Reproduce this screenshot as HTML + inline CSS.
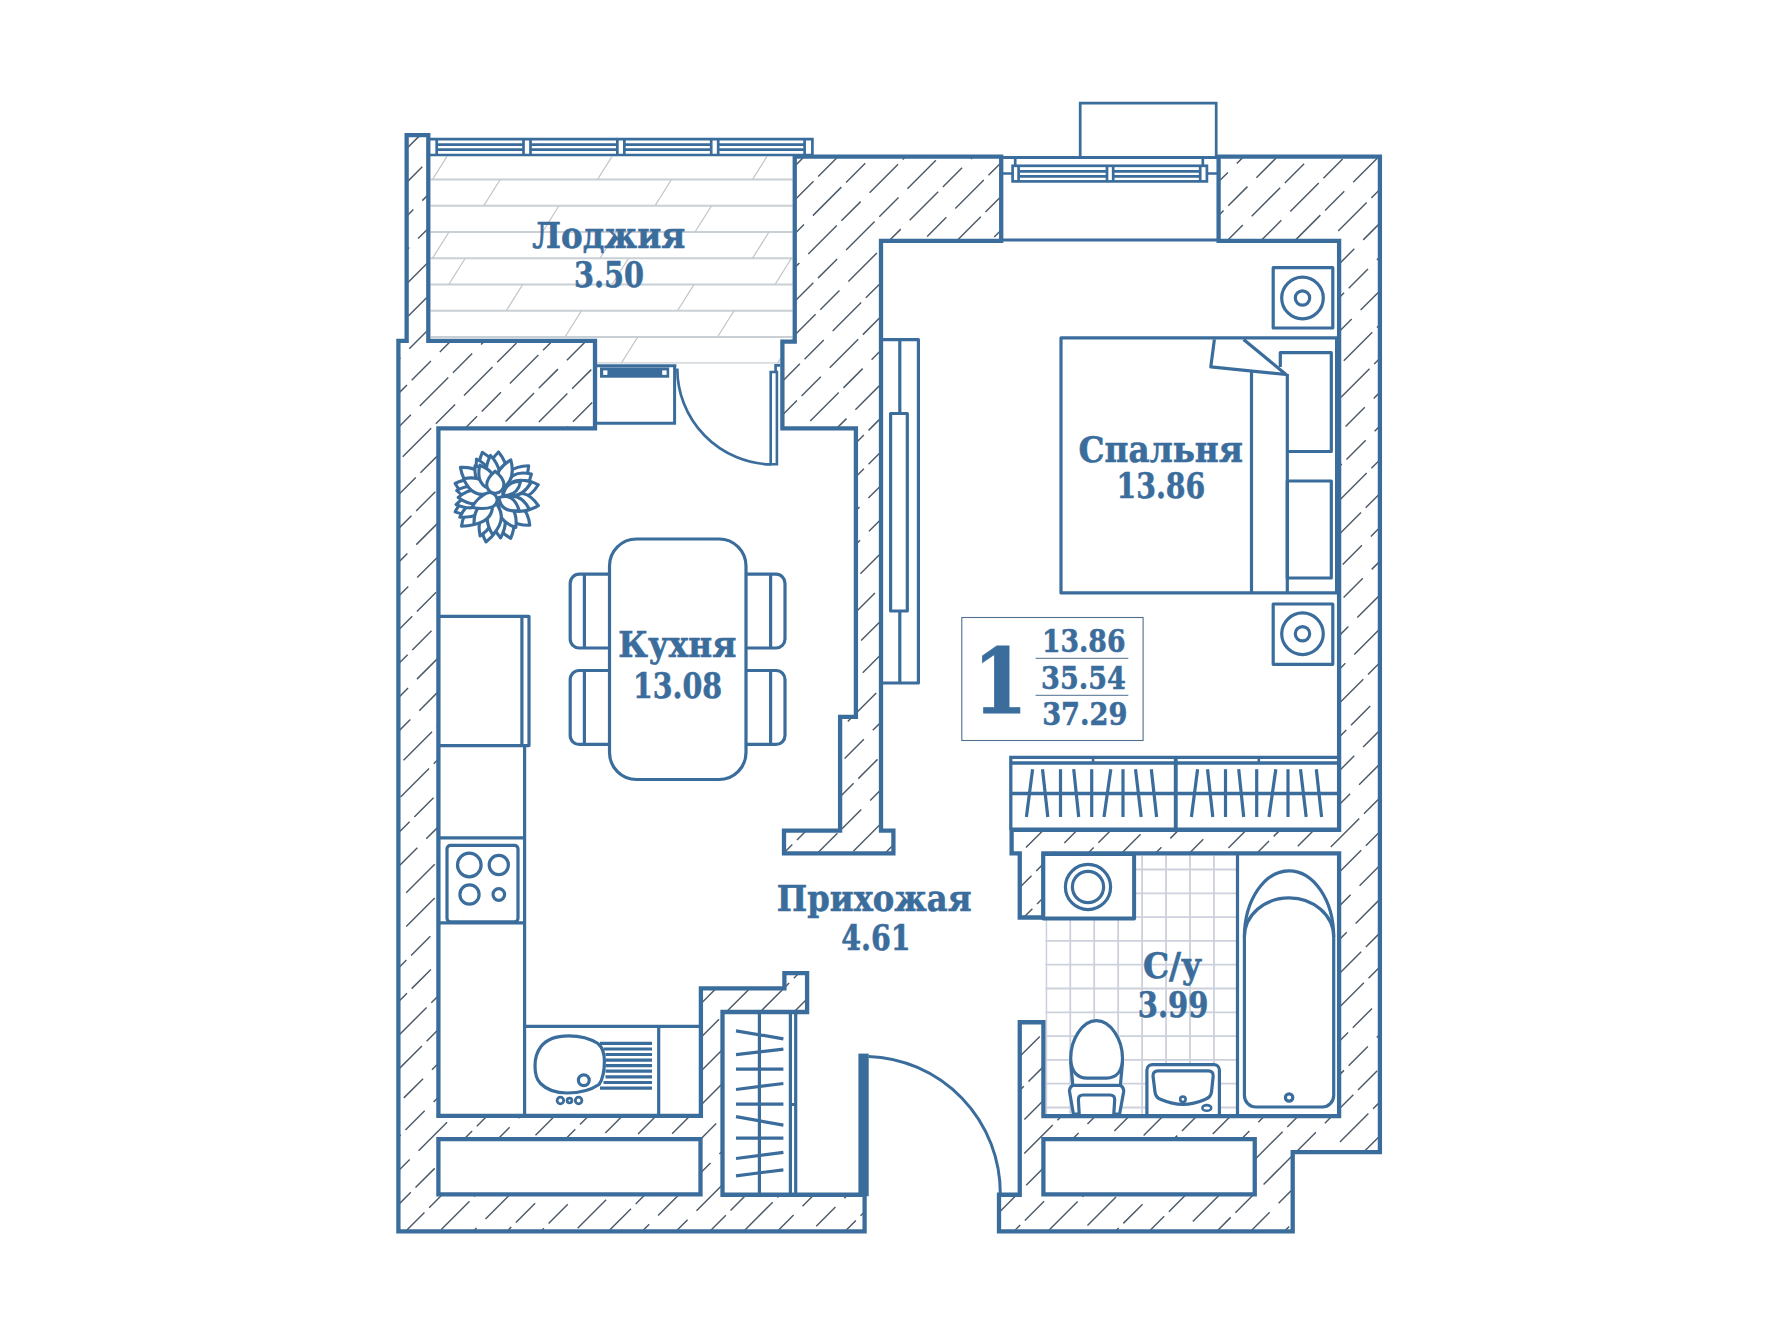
<!DOCTYPE html>
<html lang="ru"><head><meta charset="utf-8"><title>Планировка 1-комнатной квартиры 37.29</title>
<style>html,body{margin:0;padding:0;background:#fff}body{width:1778px;height:1333px;overflow:hidden}svg{display:block}text{font-family:"DejaVu Serif","Liberation Serif",serif;font-weight:bold;fill:#3b6d9c}.w{fill:none;stroke:#3b6d9c;stroke-width:4.3;stroke-linejoin:miter}.f{fill:none;stroke:#3b6d9c;stroke-width:3.2;stroke-linejoin:round;stroke-linecap:butt}.fw{fill:#fff;stroke:#3b6d9c;stroke-width:3.2;stroke-linejoin:round}.t{fill:none;stroke:#3b6d9c;stroke-width:2.7}.tw{fill:#fff;stroke:#3b6d9c;stroke-width:2.6}.h{stroke:#4d5b69;stroke-width:1.45;fill:none;stroke-dasharray:40.3 6.6 27.2 12.6}.fl{stroke:#c9d0d5;stroke-width:1.8;fill:none}.tl{stroke:#cdd1db;stroke-width:1.8;fill:none}</style></head><body>
<svg width="1778" height="1333" viewBox="0 0 1778 1333">
<rect width="1778" height="1333" fill="#fff"/>
<defs>
<clipPath id="cw"><path clip-rule="evenodd" d="M864.6,1194.75 L864.6,1231.4 L398.4,1231.4 L398.4,340.9 L406.65,340.9 L406.65,135.2 L428.3,135.2 L428.3,340.9 L595,340.9 L595,428.3 L438.4,428.3 L438.4,1115.9 L700.9,1115.9 L700.9,988.4 L784.4,988.4 L784.4,973.1 L807.1,973.1 L807.1,1012 L722.5,1012 L722.5,1194.75Z M999,1194.75 L999,1231.4 L1292.7,1231.4 L1292.7,1152.1 L1379.9,1152.1 L1379.9,156.6 L1218.6,156.6 L1218.6,240.9 L1339.1,240.9 L1339.1,829.75 L1011.6,829.75 L1011.6,853.4 L1019.75,853.4 L1019.75,917.5 L1043.4,917.5 L1043.4,853.4 L1339.1,853.4 L1339.1,1116.2 L1043.4,1116.2 L1043.4,1022.25 L1019.75,1022.25 L1019.75,1194.75Z M794.75,156.6 L1001.2,156.6 L1001.2,240.9 L881,240.9 L881,830.6 L893.4,830.6 L893.4,853.4 L784,853.4 L784,830.6 L840.1,830.6 L840.1,716.9 L855.9,716.9 L855.9,428.3 L782.4,428.3 L782.4,341.6 L794.75,341.6Z M438.4,1139.1 L700.5,1139.1 L700.5,1194.4 L438.4,1194.4Z M1043.4,1139.1 L1254.75,1139.1 L1254.75,1194.4 L1043.4,1194.4Z"/></clipPath>
<clipPath id="cl"><path d="M430.4,156.5H792.6V341.6H780.4V363.4H597V341H430.4Z"/></clipPath>
<clipPath id="cb"><path d="M1045.5,855.5H1236V1113.8H1045.5Z"/></clipPath>
</defs>
<g class="fl" clip-path="url(#cl)"><path d="M425,179.5H800"/><path d="M425,205.75H800"/><path d="M425,232H800"/><path d="M425,258.25H800"/><path d="M425,284.5H800"/><path d="M425,310.75H800"/><path d="M425,337H800"/><path d="M425,363.25H800"/><path d="M432.5,179.5l16.5,-26.25" style="stroke:#c2c6ca;stroke-width:1.3"/><path d="M597.5,179.5l16.5,-26.25" style="stroke:#c2c6ca;stroke-width:1.3"/><path d="M752.5,179.5l16.5,-26.25" style="stroke:#c2c6ca;stroke-width:1.3"/><path d="M483.75,205.75l16.5,-26.25" style="stroke:#c2c6ca;stroke-width:1.3"/><path d="M655,205.75l16.5,-26.25" style="stroke:#c2c6ca;stroke-width:1.3"/><path d="M542.5,232l16.5,-26.25" style="stroke:#c2c6ca;stroke-width:1.3"/><path d="M695,232l16.5,-26.25" style="stroke:#c2c6ca;stroke-width:1.3"/><path d="M432.5,258.25l16.5,-26.25" style="stroke:#c2c6ca;stroke-width:1.3"/><path d="M600,258.25l16.5,-26.25" style="stroke:#c2c6ca;stroke-width:1.3"/><path d="M752.5,258.25l16.5,-26.25" style="stroke:#c2c6ca;stroke-width:1.3"/><path d="M448.75,284.5l16.5,-26.25" style="stroke:#c2c6ca;stroke-width:1.3"/><path d="M612,284.5l16.5,-26.25" style="stroke:#c2c6ca;stroke-width:1.3"/><path d="M775,284.5l16.5,-26.25" style="stroke:#c2c6ca;stroke-width:1.3"/><path d="M506.25,310.75l16.5,-26.25" style="stroke:#c2c6ca;stroke-width:1.3"/><path d="M677.5,310.75l16.5,-26.25" style="stroke:#c2c6ca;stroke-width:1.3"/><path d="M565,337l16.5,-26.25" style="stroke:#c2c6ca;stroke-width:1.3"/><path d="M717.5,337l16.5,-26.25" style="stroke:#c2c6ca;stroke-width:1.3"/><path d="M621.25,363.25l16.5,-26.25" style="stroke:#c2c6ca;stroke-width:1.3"/><path d="M777.5,363.25l16.5,-26.25" style="stroke:#c2c6ca;stroke-width:1.3"/></g>
<g class="tl" clip-path="url(#cb)"><path d="M1046.30,850V1120"/><path d="M1070.25,850V1120"/><path d="M1094.20,850V1120"/><path d="M1118.15,850V1120"/><path d="M1142.10,850V1120"/><path d="M1166.05,850V1120"/><path d="M1190.00,850V1120"/><path d="M1213.95,850V1120"/><path d="M1040,869.50H1240"/><path d="M1040,893.30H1240"/><path d="M1040,917.10H1240"/><path d="M1040,940.90H1240"/><path d="M1040,964.70H1240"/><path d="M1040,988.50H1240"/><path d="M1040,1012.30H1240"/><path d="M1040,1036.10H1240"/><path d="M1040,1059.90H1240"/><path d="M1040,1083.70H1240"/><path d="M1040,1107.50H1240"/></g>
<g clip-path="url(#cw)"><line class="h" x1="-718.5" y1="1240" x2="393.5" y2="128" stroke-dashoffset="-28.1"/><line class="h" x1="-684.7" y1="1240" x2="427.3" y2="128" stroke-dashoffset="-13.1"/><line class="h" x1="-650.9" y1="1240" x2="461.1" y2="128" stroke-dashoffset="-56.4"/><line class="h" x1="-617.1" y1="1240" x2="494.9" y2="128" stroke-dashoffset="-82.7"/><line class="h" x1="-583.3" y1="1240" x2="528.7" y2="128" stroke-dashoffset="-29.0"/><line class="h" x1="-549.5" y1="1240" x2="562.5" y2="128" stroke-dashoffset="-40.5"/><line class="h" x1="-515.7" y1="1240" x2="596.3" y2="128" stroke-dashoffset="-6.3"/><line class="h" x1="-481.9" y1="1240" x2="630.1" y2="128" stroke-dashoffset="-46.5"/><line class="h" x1="-448.1" y1="1240" x2="663.9" y2="128" stroke-dashoffset="-41.9"/><line class="h" x1="-414.3" y1="1240" x2="697.7" y2="128" stroke-dashoffset="-52.5"/><line class="h" x1="-380.5" y1="1240" x2="731.5" y2="128" stroke-dashoffset="-67.2"/><line class="h" x1="-346.7" y1="1240" x2="765.3" y2="128" stroke-dashoffset="-84.3"/><line class="h" x1="-312.9" y1="1240" x2="799.1" y2="128" stroke-dashoffset="-30.4"/><line class="h" x1="-279.1" y1="1240" x2="832.9" y2="128" stroke-dashoffset="-29.7"/><line class="h" x1="-245.3" y1="1240" x2="866.7" y2="128" stroke-dashoffset="-69.9"/><line class="h" x1="-211.5" y1="1240" x2="900.5" y2="128" stroke-dashoffset="-61.5"/><line class="h" x1="-177.7" y1="1240" x2="934.3" y2="128" stroke-dashoffset="-7.2"/><line class="h" x1="-143.9" y1="1240" x2="968.1" y2="128" stroke-dashoffset="-12.9"/><line class="h" x1="-110.1" y1="1240" x2="1001.9" y2="128" stroke-dashoffset="-55.0"/><line class="h" x1="-76.3" y1="1240" x2="1035.7" y2="128" stroke-dashoffset="-71.7"/><line class="h" x1="-42.5" y1="1240" x2="1069.5" y2="128" stroke-dashoffset="-19.7"/><line class="h" x1="-8.7" y1="1240" x2="1103.3" y2="128" stroke-dashoffset="-31.1"/><line class="h" x1="25.1" y1="1240" x2="1137.1" y2="128" stroke-dashoffset="-47.1"/><line class="h" x1="58.9" y1="1240" x2="1170.9" y2="128" stroke-dashoffset="-57.7"/><line class="h" x1="92.7" y1="1240" x2="1204.7" y2="128" stroke-dashoffset="-9.9"/><line class="h" x1="126.5" y1="1240" x2="1238.5" y2="128" stroke-dashoffset="-8.8"/><line class="h" x1="160.3" y1="1240" x2="1272.3" y2="128" stroke-dashoffset="-48.5"/><line class="h" x1="194.1" y1="1240" x2="1306.1" y2="128" stroke-dashoffset="-28.4"/><line class="h" x1="227.9" y1="1240" x2="1339.9" y2="128" stroke-dashoffset="-60.7"/><line class="h" x1="261.7" y1="1240" x2="1373.7" y2="128" stroke-dashoffset="-67.4"/><line class="h" x1="295.5" y1="1240" x2="1407.5" y2="128" stroke-dashoffset="-21.9"/><line class="h" x1="329.3" y1="1240" x2="1441.3" y2="128" stroke-dashoffset="-39.6"/><line class="h" x1="363.1" y1="1240" x2="1475.1" y2="128" stroke-dashoffset="-27.2"/><line class="h" x1="396.9" y1="1240" x2="1508.9" y2="128" stroke-dashoffset="-85.4"/><line class="h" x1="430.7" y1="1240" x2="1542.7" y2="128" stroke-dashoffset="-14.6"/><line class="h" x1="464.5" y1="1240" x2="1576.5" y2="128" stroke-dashoffset="-29.7"/><line class="h" x1="498.3" y1="1240" x2="1610.3" y2="128" stroke-dashoffset="-64.7"/><line class="h" x1="532.1" y1="1240" x2="1644.1" y2="128" stroke-dashoffset="-63.1"/><line class="h" x1="565.9" y1="1240" x2="1677.9" y2="128" stroke-dashoffset="-16.6"/><line class="h" x1="599.7" y1="1240" x2="1711.7" y2="128" stroke-dashoffset="-4.0"/><line class="h" x1="633.5" y1="1240" x2="1745.5" y2="128" stroke-dashoffset="-34.8"/><line class="h" x1="667.3" y1="1240" x2="1779.3" y2="128" stroke-dashoffset="-41.3"/><line class="h" x1="701.1" y1="1240" x2="1813.1" y2="128" stroke-dashoffset="-81.4"/><line class="h" x1="734.9" y1="1240" x2="1846.9" y2="128" stroke-dashoffset="-13.2"/><line class="h" x1="768.7" y1="1240" x2="1880.7" y2="128" stroke-dashoffset="-47.8"/><line class="h" x1="802.5" y1="1240" x2="1914.5" y2="128" stroke-dashoffset="-59.2"/><line class="h" x1="836.3" y1="1240" x2="1948.3" y2="128" stroke-dashoffset="-74.1"/><line class="h" x1="870.1" y1="1240" x2="1982.1" y2="128" stroke-dashoffset="-3.7"/><line class="h" x1="903.9" y1="1240" x2="2015.9" y2="128" stroke-dashoffset="-36.8"/><line class="h" x1="937.7" y1="1240" x2="2049.7" y2="128" stroke-dashoffset="-35.7"/><line class="h" x1="971.5" y1="1240" x2="2083.5" y2="128" stroke-dashoffset="-77.3"/><line class="h" x1="1005.3" y1="1240" x2="2117.3" y2="128" stroke-dashoffset="-67.5"/><line class="h" x1="1039.1" y1="1240" x2="2151.1" y2="128" stroke-dashoffset="-14.2"/><line class="h" x1="1072.9" y1="1240" x2="2184.9" y2="128" stroke-dashoffset="-20.6"/><line class="h" x1="1106.7" y1="1240" x2="2218.7" y2="128" stroke-dashoffset="-63.3"/><line class="h" x1="1140.5" y1="1240" x2="2252.5" y2="128" stroke-dashoffset="-79.9"/><line class="h" x1="1174.3" y1="1240" x2="2286.3" y2="128" stroke-dashoffset="-26.2"/><line class="h" x1="1208.1" y1="1240" x2="2320.1" y2="128" stroke-dashoffset="-78.4"/><line class="h" x1="1241.9" y1="1240" x2="2353.9" y2="128" stroke-dashoffset="-51.9"/><line class="h" x1="1275.7" y1="1240" x2="2387.7" y2="128" stroke-dashoffset="-31.7"/><line class="h" x1="1309.5" y1="1240" x2="2421.5" y2="128" stroke-dashoffset="-5.0"/><line class="h" x1="1343.3" y1="1240" x2="2455.3" y2="128" stroke-dashoffset="-44.0"/><line class="h" x1="1377.1" y1="1240" x2="2489.1" y2="128" stroke-dashoffset="-3.3"/></g>
<path class="w" d="M864.6,1194.75 L864.6,1231.4 L398.4,1231.4 L398.4,340.9 L406.65,340.9 L406.65,135.2 L428.3,135.2 L428.3,340.9 L595,340.9 L595,428.3 L438.4,428.3 L438.4,1115.9 L700.9,1115.9 L700.9,988.4 L784.4,988.4 L784.4,973.1 L807.1,973.1 L807.1,1012 L722.5,1012 L722.5,1194.75Z"/>
<path class="w" d="M999,1194.75 L999,1231.4 L1292.7,1231.4 L1292.7,1152.1 L1379.9,1152.1 L1379.9,156.6 L1218.6,156.6 L1218.6,240.9 L1339.1,240.9 L1339.1,829.75 L1011.6,829.75 L1011.6,853.4 L1019.75,853.4 L1019.75,917.5 L1043.4,917.5 L1043.4,853.4 L1339.1,853.4 L1339.1,1116.2 L1043.4,1116.2 L1043.4,1022.25 L1019.75,1022.25 L1019.75,1194.75Z"/>
<path class="w" d="M794.75,156.6 L1001.2,156.6 L1001.2,240.9 L881,240.9 L881,830.6 L893.4,830.6 L893.4,853.4 L784,853.4 L784,830.6 L840.1,830.6 L840.1,716.9 L855.9,716.9 L855.9,428.3 L782.4,428.3 L782.4,341.6 L794.75,341.6Z"/>
<path class="w" d="M438.4,1139.1 L700.5,1139.1 L700.5,1194.4 L438.4,1194.4Z"/>
<path class="w" d="M1043.4,1139.1 L1254.75,1139.1 L1254.75,1194.4 L1043.4,1194.4Z"/>
<g class="t"><path d="M430,139.2H812.4V155M430,155H812.4"/><path d="M436.7,139.2V155M804.6,139.2V155"/><path d="M523.5,139.2V155M530.5,139.2V155"/><path d="M617.35,139.2V155M624.35,139.2V155"/><path d="M711.2,139.2V155M718.2,139.2V155"/><path d="M436.7,144.6H523.5M436.7,149.7H523.5"/><path d="M530.5,144.6H617.35M530.5,149.7H617.35"/><path d="M624.35,144.6H711.2M624.35,149.7H711.2"/><path d="M718.2,144.6H804.6M718.2,149.7H804.6"/></g>
<g class="t"><path d="M1001.2,157.6H1218.6" style="stroke-width:3"/><path d="M1001.2,239.9H1218.6" style="stroke-width:3"/><path d="M1080.2,157.6V103.2H1216.2V157.6"/><rect x="1012.6" y="165.8" width="194.3" height="15.6"/><path d="M1018.6,165.8V181.4M1200.2,165.8V181.4M1107,165.8V181.4M1113.2,165.8V181.4"/><path d="M1018.6,171.4H1107M1018.6,176.4H1107M1113.2,171.4H1200.2M1113.2,176.4H1200.2"/><path d="M1015.2,158V165.8M1202.8,158V165.8M1003,173.5H1012.6M1206.9,173.5H1217"/></g>
<path class="t" d="M597,365.7H676.4M674.6,365.7V423.2H597" style="stroke-width:3"/><rect x="600" y="367.4" width="69.2" height="10.3" fill="#3b6d9c"/><rect x="603.2" y="370.4" width="4.2" height="4.5" fill="#fff"/><rect x="662.2" y="370.4" width="4.4" height="4.5" fill="#fff"/><path class="t" d="M677.3,368.4A95.8,95.8 0 0 0 771,464.4"/><path class="tw" d="M770.7,372H776.9V464.3H770.7Z"/><path class="t" d="M775.6,372V365.3H780.4"/>
<g class="f"><path d="M440,616.4H529V745.6H440M521.9,616.4V745.6"/><path d="M524.6,745.6V1115.9M440,837.9H524.6M440,922.9H524.6M524.6,1026.4H700M658.7,1026.4V1115"/><rect x="447" y="845.3" width="71" height="76.5" rx="3.5"/><circle cx="469.3" cy="865" r="11.8"/><circle cx="498.8" cy="865" r="9.6"/><circle cx="469.5" cy="894.5" r="9.6"/><circle cx="498.8" cy="894.5" r="5.8"/><path d="M568.6,1035.8C556,1035.8 546,1040 541,1046.5C536,1053 535,1060 535,1066C535,1073 536,1079 540.5,1083.5C546,1089 556,1093 567,1093C579,1093 591,1090 599,1084.5C603,1079 604.4,1070 604.4,1061C604.4,1053 602,1047 598,1043.5C591,1039 580,1035.8 568.6,1035.8Z"/><path d="M600,1043.3H652"/><path d="M603.5,1049H652"/><path d="M605.5,1054.5H652"/><path d="M605.5,1060.1H652"/><path d="M605.5,1065.7H652"/><path d="M605.5,1071.2H652"/><path d="M605.5,1076.8H652"/><path d="M603.5,1082.5H652"/><path d="M600,1088.1H652"/><circle cx="583.8" cy="1080.2" r="5.4"/><circle cx="560.4" cy="1100.5" r="3.3" style="stroke-width:2.8"/><circle cx="569.5" cy="1100.5" r="2.4" style="stroke-width:2.8"/><circle cx="578.6" cy="1100.5" r="3.3" style="stroke-width:2.8"/><path d="M612,574.2H579.2a9,9 0 0 0 -9,9V639a9,9 0 0 0 9,9H612M584.4,574.2V648"/><path d="M744,574.2H776a9,9 0 0 1 9,9V639a9,9 0 0 1 -9,9H744M770.6,574.2V648"/><path d="M612,670.5H579.2a9,9 0 0 0 -9,9V735.4a9,9 0 0 0 9,9H612M584.4,670.5V744.4"/><path d="M744,670.5H776a9,9 0 0 1 9,9V735.4a9,9 0 0 1 -9,9H744M770.6,670.5V744.4"/></g><rect class="fw" x="609.5" y="539" width="136.5" height="240.5" rx="27" ry="27"/>
<g class="f"><path d="M883,339.6H918.4V683H883M899.8,339.6V413.5M899.8,611V683"/><rect x="890.6" y="413.5" width="16.7" height="197.5"/><path d="M1337,337.8H1061V592.9H1337"/><path d="M1214.4,339.4L1210.8,366.9L1286,374.5L1243.6,339.4"/><path d="M1251.5,371.2V592.9M1287.3,374V592.9"/><path d="M1280.3,367V352.7H1331.3V451.5H1287.3"/><rect x="1287.3" y="481" width="44" height="97"/><path d="M1336.2,337.8V592.9" style="stroke-width:2.4"/><rect x="1273.2" y="267.7" width="59.6" height="60.3"/><circle cx="1302.5" cy="298" r="20.8"/><circle cx="1302.5" cy="298" r="7.2"/><rect x="1273.2" y="604" width="59.6" height="60.3"/><circle cx="1302.5" cy="633.75" r="20.8"/><circle cx="1302.5" cy="633.75" r="7.2"/><path d="M1010.8,757.4H1339M1010.8,763H1339M1010.8,793.5H1339M1010.8,755.7V829.7" style="stroke-width:3.3"/><path d="M1175.75,757.4V829.7" style="stroke-width:3.9"/><path d="M1093.1,757.4V763M1258.8,757.4V763" style="stroke-width:2.6"/><path d="M1032.6,769.2L1026.4,817"/><path d="M1042.5,769.2L1047.8,817"/><path d="M1060.5,769.2L1060.5,817"/><path d="M1073.7,769.2L1078.7,817"/><path d="M1091.7,769.2L1091.7,817"/><path d="M1110.8,769.2L1104,817"/><path d="M1123,769.2L1123,817"/><path d="M1135.5,769.2L1141.2,817"/><path d="M1151.3,769.2L1156.6,817"/><path d="M1197.6,769.2L1191.4,817"/><path d="M1207.5,769.2L1212.8,817"/><path d="M1225.5,769.2L1225.5,817"/><path d="M1238.7,769.2L1243.7,817"/><path d="M1256.7,769.2L1256.7,817"/><path d="M1275.8,769.2L1269,817"/><path d="M1288,769.2L1288,817"/><path d="M1300.5,769.2L1306.2,817"/><path d="M1316.3,769.2L1321.6,817"/></g>
<g class="f"><rect x="1043.3" y="854" width="90.8" height="64.5" style="stroke-width:4;fill:#fff"/><circle cx="1088" cy="887" r="22.6"/><circle cx="1088" cy="887" r="15.6"/><path d="M1237.5,855V1114"/><path d="M1244.4,937V1095.5a11.5,11.5 0 0 0 11.5,11.5H1322.2a11.5,11.5 0 0 0 11.5,-11.5V937A44.65,66.3 0 0 0 1244.4,937" style="fill:#fff"/><path d="M1244.4,937A44.65,39.2 0 0 1 1333.7,937"/><circle cx="1289.1" cy="1097.5" r="3.7"/><path style="fill:#fff" d="M1072.8,1085.4C1070,1087 1069.2,1089 1069.6,1092L1073.4,1114H1119.6L1123.6,1092C1124,1089 1123,1087 1120.4,1085.4Z"/><path style="fill:#fff" d="M1079.2,1114L1078.4,1100C1078.3,1096.5 1080,1095 1083,1095H1110C1113,1095 1114.8,1096.5 1114.7,1100L1113.8,1114"/><path style="fill:#fff" d="M1070.7,1062L1072.8,1085.4H1120.4L1122.5,1062Z"/><path style="fill:#fff" d="M1096.4,1020.6C1082,1020.6 1070.7,1040 1070.7,1058C1070.7,1072 1078,1078.1 1087.2,1078.1H1106.4C1116,1078.1 1122.5,1072 1122.5,1058C1122.5,1040 1111,1020.6 1096.4,1020.6Z"/><path style="fill:#fff" d="M1146.9,1114V1070.2a5.6,5.6 0 0 1 5.6,-5.6H1213.8a5.6,5.6 0 0 1 5.6,5.6V1114"/><path d="M1158,1070.9H1208.4C1211.8,1070.9 1213.4,1073 1213.2,1076L1211.5,1092C1211,1096 1209,1098 1205,1099.5C1198,1102.5 1190,1104.4 1183,1104.4C1176,1104.4 1168,1102.5 1161,1099.5C1157,1098 1155.4,1096 1155,1092L1153,1076C1152.8,1073 1154.5,1070.9 1158,1070.9Z"/><circle cx="1182.9" cy="1099.3" r="2.7" style="stroke-width:2.6;fill:#fff"/><ellipse cx="1206.8" cy="1107.9" rx="4.4" ry="2.8" style="stroke-width:2.6;fill:#fff"/></g>
<g class="f"><path d="M759.4,1012V1194M790.4,1012V1194M795.7,1012V1194M790.4,1104.5H795.7"/><path d="M736,1030.9L783.4,1038.8"/><path d="M736,1054.7L783.4,1049.1"/><path d="M736,1069.2L783.4,1069.2"/><path d="M736,1089.5L783.4,1083.5"/><path d="M736,1104.1L783.4,1104.1"/><path d="M736,1116.7L783.4,1125.1"/><path d="M736,1138.2L783.4,1138.2"/><path d="M736,1158.5L783.4,1152.3"/><path d="M736,1175.8L783.4,1169.8"/></g>
<rect x="858.4" y="1053.6" width="10.3" height="142.6" fill="#3b6d9c"/>
<path class="t" d="M868.5,1056.4A136.5,137 0 0 1 1000.3,1193.5" style="stroke-width:3"/>
<g style="fill:#fff;stroke:#3b6d9c;stroke-width:3.1;stroke-linejoin:round"><path d="M492.6,484.7Q504.5,465.9 482.3,452.3Q472.1,476.2 492.6,484.7Z"/><path d="M496.8,484.1Q514.5,471.5 498.5,452.0Q480.6,469.7 496.8,484.1Z"/><path d="M505.0,487.9Q526.5,491.0 528.7,465.8Q503.4,466.2 505.0,487.9Z"/><path d="M506.4,489.7Q525.9,497.6 531.4,474.1Q507.9,468.8 506.4,489.7Z"/><path d="M507.8,493.0Q525.0,506.0 538.3,484.8Q516.2,473.1 507.8,493.0Z"/><path d="M507.9,498.8Q516.9,518.2 538.4,505.7Q524.5,485.1 507.9,498.8Z"/><path d="M505.3,504.0Q504.4,525.8 529.8,525.3Q526.7,500.1 505.3,504.0Z"/><path d="M500.1,507.4Q488.5,525.9 510.7,538.3Q520.6,514.9 500.1,507.4Z"/><path d="M493.6,507.8Q473.8,518.4 485.9,541.9Q506.9,525.8 493.6,507.8Z"/><path d="M487.1,504.0Q465.2,500.5 461.5,526.2Q487.5,526.2 487.1,504.0Z"/><path d="M485.0,500.4Q466.4,489.3 455.1,511.9Q478.5,521.1 485.0,500.4Z"/><path d="M484.7,492.6Q477.3,472.5 455.1,483.5Q467.3,505.0 484.7,492.6Z"/><path d="M486.8,488.6Q486.4,466.4 460.4,467.4Q465.1,493.0 486.8,488.6Z"/><path d="M492.0,488.2Q496.9,469.8 476.5,459.0Q474.0,482.0 492.0,488.2Z"/><path d="M494.9,487.2Q506.0,472.1 490.5,455.5Q480.2,475.7 494.9,487.2Z"/><path d="M488.4,500.6Q469.9,496.3 459.8,517.1Q482.9,518.8 488.4,500.6Z"/><path d="M487.4,498.0Q471.5,488.0 456.1,504.6Q477.0,513.5 487.4,498.0Z"/><path d="M487.3,494.8Q476.2,480.2 456.6,490.5Q472.6,505.9 487.3,494.8Z"/><path d="M492.8,504.4Q475.4,512.8 480.1,536.0Q499.5,522.6 492.8,504.4Z"/><path d="M497.1,505.1Q485.7,520.2 500.6,537.9Q511.5,517.5 497.1,505.1Z"/><path d="M492.2,490.4Q496.4,472.0 475.0,465.8Q473.5,488.1 492.2,490.4Z"/><path d="M498.8,489.6Q516.8,482.4 510.8,459.9Q490.9,471.9 498.8,489.6Z"/><path d="M502.7,493.5Q520.0,501.6 531.4,481.9Q509.5,475.6 502.7,493.5Z"/><path d="M502.7,498.7Q508.7,516.3 529.6,509.6Q519.2,490.3 502.7,498.7Z"/><path d="M499.9,502.0Q494.7,520.1 515.8,527.5Q518.5,505.3 499.9,502.0Z"/><path d="M495.6,503.1Q480.5,515.2 492.8,535.0Q508.4,517.7 495.6,503.1Z"/><path d="M491.9,501.6Q473.4,502.6 474.0,524.5Q495.4,519.8 491.9,501.6Z"/><path d="M489.2,496.3Q475.7,482.8 458.2,497.4Q476.7,510.8 489.2,496.3Z"/><path d="M490.0,492.8Q485.5,474.5 463.5,478.7Q472.3,499.3 490.0,492.8Z"/><path d="M492.9,489.9Q499.8,473.0 479.8,465.2Q475.0,486.1 492.9,489.9Z"/><path d="M499.0,497.5Q500.6,512.8 519.2,510.5Q513.6,492.6 499.0,497.5Z"/><path d="M503.0,495.5Q517.7,495.9 520.6,481.5Q505.9,481.1 503.0,495.5Z"/><path d="M471.8,507.2Q478.2,496.8 487.4,492.9A7.4,7.4 0 0 1 492.9,506.6Q483.7,510.2 471.8,507.2Z"/><path d="M495.1,471.2Q503.6,477.7 503.9,484.4A8.6,8.6 0 0 1 486.7,484.8Q486.8,478.1 495.1,471.2Z"/></g>
<rect x="961.8" y="617.5" width="181.3" height="123" fill="#fff" stroke="#4f6f8e" stroke-width="1.1"/>
<path d="M1035.6,658.3H1128.3M1035.6,695.3H1128.3" stroke="#4f6f8e" stroke-width="1" fill="none"/>
<text transform="translate(532.35,247.5) scale(0.9150,1)" font-size="35.5" stroke="#3b6d9c" stroke-width="0.6">Лоджия</text>
<text transform="translate(573.99,286.7) scale(0.8099,1)" font-size="35.5" stroke="#3b6d9c" stroke-width="0.6">3.50</text>
<text transform="translate(618.23,656.6) scale(0.9199,1)" font-size="35.5" stroke="#3b6d9c" stroke-width="0.6">Кухня</text>
<text transform="translate(632.88,698.2) scale(0.8032,1)" font-size="35.5" stroke="#3b6d9c" stroke-width="0.6">13.08</text>
<text transform="translate(1078.59,461.9) scale(0.9204,1)" font-size="35.5" stroke="#3b6d9c" stroke-width="0.6">Спальня</text>
<text transform="translate(1116.50,497.8) scale(0.7984,1)" font-size="35.5" stroke="#3b6d9c" stroke-width="0.6">13.86</text>
<text transform="translate(776.85,911) scale(0.9076,1)" font-size="35.5" stroke="#3b6d9c" stroke-width="0.6">Прихожая</text>
<text transform="translate(841.16,950) scale(0.8027,1)" font-size="35.5" stroke="#3b6d9c" stroke-width="0.6">4.61</text>
<text transform="translate(1142.89,977.6) scale(0.9256,1)" font-size="35.5" stroke="#3b6d9c" stroke-width="0.6">С/у</text>
<text transform="translate(1137.77,1016.6) scale(0.8176,1)" font-size="35.5" stroke="#3b6d9c" stroke-width="0.6">3.99</text>
<text transform="translate(972.80,713.1) scale(0.8844,1)" font-size="89.5" stroke="#3b6d9c" stroke-width="0.8">1</text>
<text transform="translate(1042.00,651.8) scale(0.8227,1)" font-size="32.4" stroke="#3b6d9c" stroke-width="0.6">13.86</text>
<text transform="translate(1041.11,688.5) scale(0.8350,1)" font-size="32.4" stroke="#3b6d9c" stroke-width="0.6">35.54</text>
<text transform="translate(1042.19,725.3) scale(0.8405,1)" font-size="32.4" stroke="#3b6d9c" stroke-width="0.6">37.29</text>
</svg></body></html>
